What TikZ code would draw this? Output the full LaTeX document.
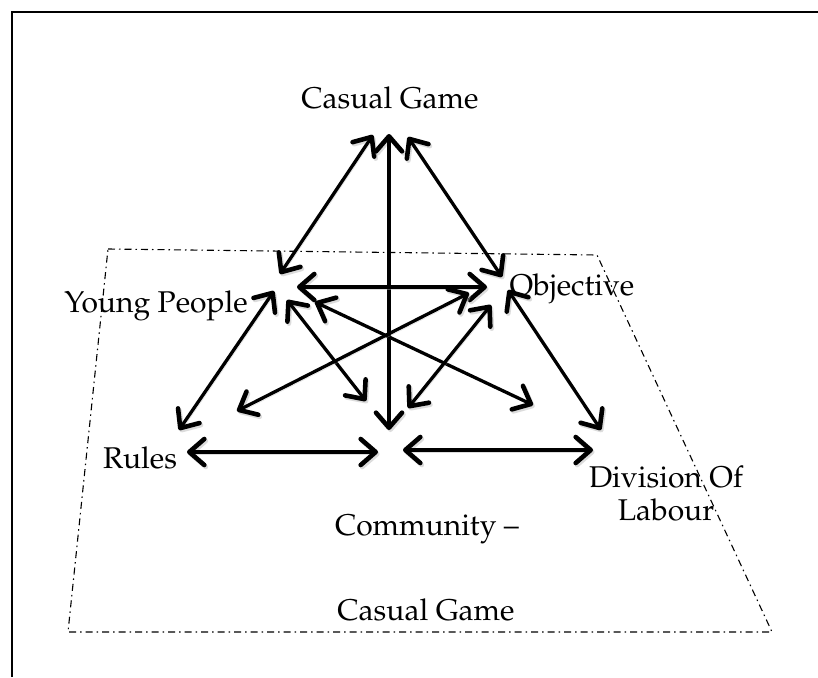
\documentclass[tikz,border=0pt]{standalone}
\usepackage[T1]{fontenc}
\renewcommand{\rmdefault}{ppl}
\usetikzlibrary{arrows.meta}
\begin{document}
\begin{tikzpicture}[x=1pt,y=-1pt,
  lbl/.style={font=\fontsize{30}{36}\selectfont, inner sep=0pt, anchor=base},
  link/.style={line width=3.3pt, line cap=round, <->,
    >={Straight Barb[length=15pt,width=26pt,line width=4.6pt,line cap=round,line join=round]},
    preaction={draw=black!30, opacity=0.45,
      transform canvas={shift={(1.5pt,-2pt)}}}},
  plane/.style={line width=1.1pt, dash pattern=on 7pt off 4pt on 1.5pt off 4pt},
  frameline/.style={line width=1.6pt}]
\path[fill=white] (0,0) rectangle (818,677);
\useasboundingbox (0,0) rectangle (818,677);

% outer frame (left and top edges)
\draw[frameline] (12,677) -- (12,12) -- (818,12);

% labels
\node[lbl] (top)   at (390,108) {Casual Game};
\node[lbl] (yp)    at (156,312) {Young People};
\node[lbl] (obj)   at (572,295) {Objective};
\node[lbl] (rules) at (140,468) {Rules};
\node[lbl] (div)   at (666,487) {Division Of};
\node[lbl] (lab)   at (666,520) {Labour};
\node[lbl] (comm)  at (427,535) {Community --};
\node[lbl] (base)  at (426,620) {Casual Game};

% ground plane
\coordinate (p1) at (108,249);
\coordinate (p2) at (597,255);
\coordinate (p3) at (772,632);
\coordinate (p4) at (68,632);
\draw[plane] (p1) -- (p2) -- (p3) -- (p4) -- cycle;

% arrow end points
\coordinate (cgL) at (373,135);
\coordinate (cgM) at (389,134);
\coordinate (cgR) at (408,137);
\coordinate (ypT) at (280,274);
\coordinate (ypH) at (297,287);
\coordinate (ypL) at (274,291);
\coordinate (ypC) at (287,300);
\coordinate (ypX) at (315,302);
\coordinate (obT) at (502,277);
\coordinate (obH) at (487,287);
\coordinate (obX) at (469,293);
\coordinate (obC) at (491,305);
\coordinate (obR) at (508,290);
\coordinate (ruT) at (179,430);
\coordinate (ruH) at (187,452);
\coordinate (coY) at (366,401);
\coordinate (coM) at (389,430);
\coordinate (coO) at (408,408);
\coordinate (coL) at (378,452);
\coordinate (coR) at (403,450);
\coordinate (lx)  at (237,411);
\coordinate (rx)  at (533,405);
\coordinate (dvT) at (601,430);
\coordinate (dvH) at (593,450);

% connections
\draw[link] (cgL) -- (ypT);
\draw[link] (cgM) -- (coM);
\draw[link] (cgR) -- (obT);
\draw[link] (ypH) -- (obH);
\draw[link] (ypL) -- (ruT);
\draw[link] (ypC) -- (coY);
\draw[link] (ypX) -- (rx);
\draw[link] (obX) -- (lx);
\draw[link] (obC) -- (coO);
\draw[link] (obR) -- (dvT);
\draw[link] (ruH) -- (coL);
\draw[link] (coR) -- (dvH);
\end{tikzpicture}
\end{document}
